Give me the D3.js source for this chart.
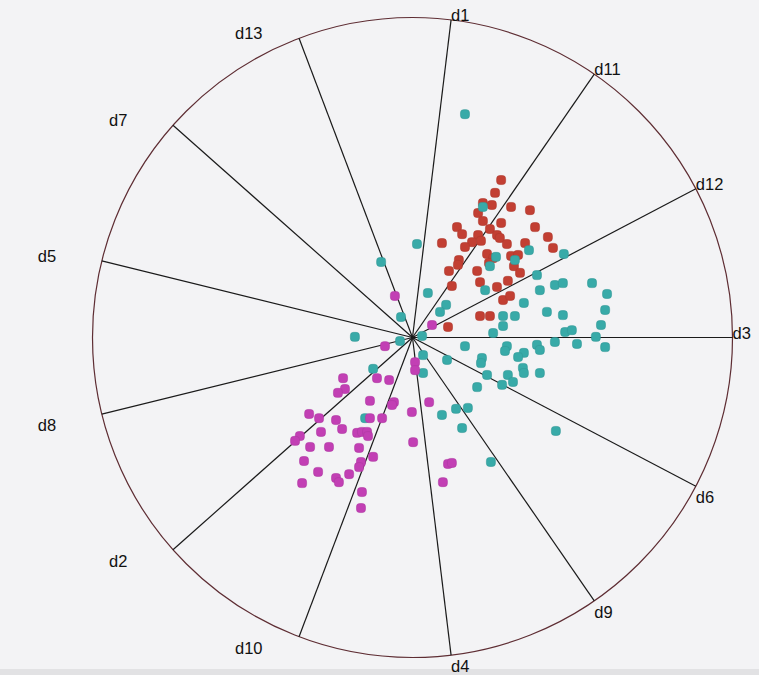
<!DOCTYPE html>
<html>
<head>
<meta charset="utf-8">
<script src="https://cdn.jsdelivr.net/npm/d3@7"></script>
<style>
  html, body { margin: 0; padding: 0; background: #f3f3f5; }
  svg { display: block; }
</style>
</head>
<body>
<script>
// Anchor (dimension) labels, clockwise starting from the right (0°)
const anchors = ["d3","d6","d9","d4","d10","d2","d8","d5","d7","d13","d1","d11","d12"];

// Projected RadViz coordinates (percent of radius): [x, y], y up
const redPoints = [
  [27.7,49.2],[25.8,45.2],[24.8,41.4],[22.0,42.0],[30.8,40.8],[36.7,39.8],[20.5,38.9],[22.0,36.4],
  [27.7,35.8],[13.9,34.5],[15.5,32.3],[24.2,33.9],[26.4,32.0],[27.3,31.1],[38.3,34.5],[42.3,31.4],
  [20.5,32.0],[21.4,30.2],[18.6,29.8],[16.4,28.3],[9.2,29.5],[29.5,29.2],[35.2,29.5],[43.9,28.0],
  [23.3,26.1],[25.2,24.8],[30.8,25.5],[33.0,25.8],[14.5,24.2],[14.2,22.7],[23.9,23.3],[31.7,22.3],
  [11.4,20.8],[20.2,20.8],[33.6,20.2],[21.1,17.3],[29.8,17.7],[12.3,16.1],[26.4,15.8],[28.3,11.7],
  [30.5,13.0],[21.1,6.7],[24.2,6.7],[11.1,3.3]
];
const tealPoints = [
  [16.4,69.8],[22.0,40.8],[1.4,29.2],[36.4,27.3],[47.3,26.1],[26.1,25.2],[32.0,24.2],[24.2,22.3],
  [38.9,19.5],[44.5,16.4],[47.0,17.0],[56.1,17.0],[22.7,14.8],[39.8,14.8],[60.8,13.6],[4.8,13.9],
  [34.8,10.8],[10.5,10.2],[8.6,8.0],[42.0,8.0],[60.2,8.6],[47.0,7.0],[28.3,6.7],[32.0,6.7],
  [-3.6,6.4],[58.9,3.9],[28.3,3.6],[47.7,1.7],[49.8,2.3],[25.2,1.4],[3.0,0.5],[57.3,0.2],
  [44.5,-1.4],[51.4,-2.0],[16.4,-2.7],[29.5,-2.7],[28.9,-4.2],[38.9,-2.3],[39.8,-3.9],[60.2,-3.0],
  [34.8,-4.8],[33.0,-6.1],[21.7,-6.4],[21.4,-8.0],[3.3,-5.5],[10.8,-7.0],[3.3,-11.1],[34.5,-9.5],
  [34.8,-11.1],[39.8,-11.1],[23.3,-11.7],[29.8,-11.7],[31.4,-13.9],[28.0,-14.8],[20.2,-15.5],[13.6,-22.3],
  [17.3,-22.0],[9.2,-24.2],[15.5,-28.3],[44.8,-29.2],[24.5,-38.9],[-3.9,-1.1],[-18.0,0.2],[-12.3,-9.8],
  [-14.8,-25.2],[-9.8,23.6]
];
const magentaPoints = [
  [-5.5,13.0],[6.1,3.9],[-8.6,-2.7],[0.8,-7.7],[0.8,-10.2],[-21.7,-12.7],[-11.1,-12.7],[-7.3,-13.3],
  [-21.1,-16.1],[-23.3,-17.3],[-13.3,-19.8],[-5.8,-20.2],[-6.4,-21.1],[5.2,-20.2],[-0.2,-23.3],[-32.3,-23.9],
  [-29.2,-25.2],[-23.9,-25.8],[-13.3,-25.2],[-9.5,-25.2],[-28.6,-29.5],[-22.0,-28.6],[-17.3,-29.8],[-15.8,-29.5],
  [-14.2,-29.5],[-13.9,-30.8],[-35.2,-30.8],[-36.7,-32.3],[-32.0,-34.2],[-26.1,-34.2],[-16.7,-34.5],[0.2,-32.7],
  [-12.3,-37.3],[-33.9,-38.6],[-16.1,-38.9],[-16.7,-40.5],[11.1,-39.5],[12.3,-39.2],[-29.5,-42.0],[-23.9,-43.9],
  [-23.0,-45.2],[-19.8,-42.7],[-34.5,-45.5],[9.5,-45.2],[-15.8,-48.3],[-16.1,-53.3]
];

const series = [
  { data: redPoints, color: "#c23f33" },
  { data: tealPoints, color: "#38aaa8" },
  { data: magentaPoints, color: "#c23fb4" }
];

const W = 759, H = 675;
const cx = 412.5, cy = 337.5, R = 320;

const svg = d3.select("body").append("svg").attr("width", W).attr("height", H);
svg.append("rect").attr("width", W).attr("height", H).attr("fill", "#f3f3f5");
svg.append("rect").attr("x", 0).attr("y", 669).attr("width", W).attr("height", 6).attr("fill", "#e2e2e4");

const x = d3.scaleLinear().domain([-100, 100]).range([cx - R, cx + R]);
const y = d3.scaleLinear().domain([-100, 100]).range([cy + R, cy - R]);

// outer circle
svg.append("circle").attr("cx", x(0)).attr("cy", y(0)).attr("r", x(100) - x(0))
  .attr("fill", "none").attr("stroke", "#5e2d33").attr("stroke-width", 1.2);

const n = anchors.length;
const anchorData = anchors.map((name, i) => {
  const a = i * 2 * Math.PI / n;
  return { name, cos: Math.cos(a), sin: Math.sin(a) };
});

// spokes
svg.append("g").selectAll("line").data(anchorData).join("line")
  .attr("x1", x(0)).attr("y1", y(0))
  .attr("x2", d => x(100 * d.cos)).attr("y2", d => y(-100 * d.sin))
  .attr("stroke", "#1a1a1a").attr("stroke-width", 1.2);

// labels
svg.append("g").selectAll("text").data(anchorData).join("text")
  .attr("x", d => x(100 * d.cos) + (d.cos < -0.01 ? -64 : 0))
  .attr("y", d => y(-100 * d.sin) + (d.sin > 0.01 ? 11 : -5))
  .attr("dominant-baseline", "central")
  .attr("font-family", "'Liberation Sans', Arial, sans-serif")
  .attr("font-size", 16.5)
  .attr("fill", "#111")
  .text(d => d.name);

// points
const ms = 9;
series.forEach(s => {
  svg.append("g").selectAll("rect").data(s.data).join("rect")
    .attr("x", d => x(d[0]) - ms / 2)
    .attr("y", d => y(d[1]) - ms / 2)
    .attr("width", ms).attr("height", ms)
    .attr("rx", 3.2)
    .attr("fill", s.color)
    .attr("stroke", d3.color(s.color).darker(0.3))
    .attr("stroke-width", 0.6);
});
</script>
</body>
</html>
